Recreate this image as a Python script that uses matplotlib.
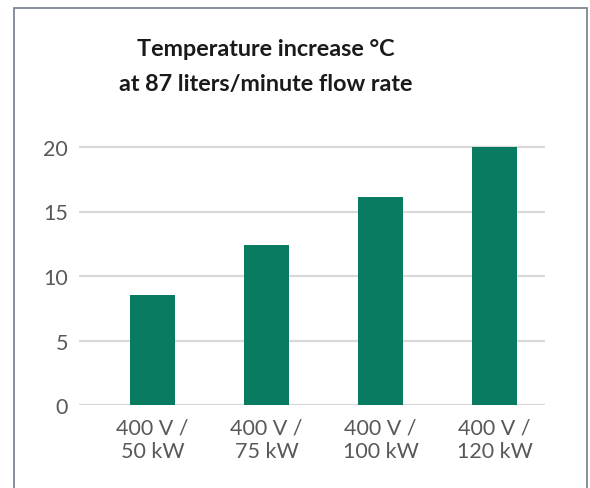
import matplotlib.pyplot as plt
from matplotlib.patches import Rectangle

categories = ['400 V /\n50 kW', '400 V /\n75 kW', '400 V /\n100 kW', '400 V /\n120 kW']
temp_increase = [8.5, 12.4, 16.1, 20.0]
yticks = [0, 5, 10, 15, 20]
title = 'Temperature increase °C\nat 87 liters/minute flow rate'

plt.rcParams['font.family'] = ['Lato', 'DejaVu Sans']

W, H = 590, 489
fig = plt.figure(figsize=(W / 100, H / 100), dpi=100)

# plot area in pixels: x 79..545, y0 at 406, 12.9 px per unit
ppu = 12.9
ymax = 20.6
ax = fig.add_axes([79 / W, (H - 406) / H, (545 - 79) / W, ymax * ppu / H])

x = list(range(len(categories)))
ax.bar(x, temp_increase, width=0.395, color='#087b61', zorder=3)

ax.set_xlim(-0.645, 3.443)
ax.set_ylim(0, ymax)
ax.set_yticks(yticks)
ax.set_xticks(x)
ax.set_xticklabels(categories, linespacing=1.2)
ax.tick_params(axis='both', length=0, labelsize=15.5, colors='#595959')
ax.tick_params(axis='y', pad=8)
ax.tick_params(axis='x', pad=9)
ax.yaxis.grid(True, color='#d9d9d9', linewidth=1.6, zorder=0)
ax.set_axisbelow(True)
for s in ax.spines.values():
    s.set_visible(False)

fig.text(266 / W, 1 - 67 / H, title, ha='center', va='center', fontsize=16.8,
         fontweight='bold', color='#1a1a1a', linespacing=1.87)

# outer frame (bottom edge below the picture)
fig.patches.append(Rectangle((14 / W, -0.05), (587 - 14) / W, 1.05 - 9 / H,
                             transform=fig.transFigure, fill=False,
                             edgecolor='#7d8790', linewidth=1.3))

fig.savefig('out.png', dpi=100)
